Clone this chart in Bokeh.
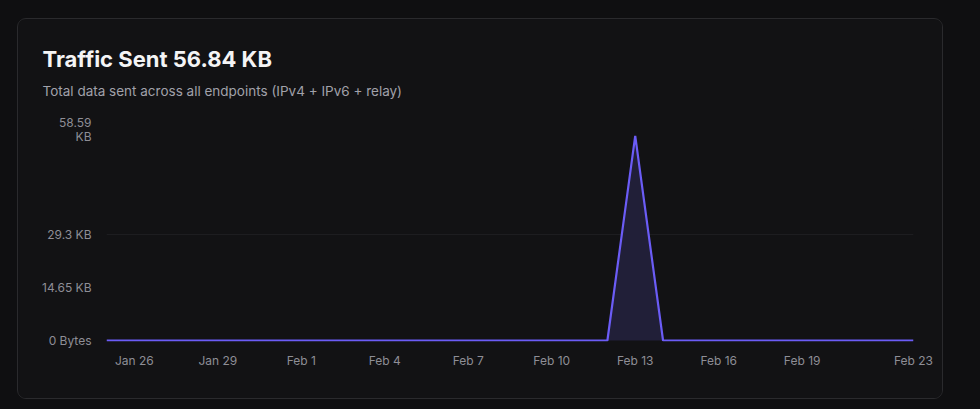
from bokeh.plotting import figure
from bokeh.models import (Range1d, FixedTicker, Title, GlobalInlineStyleSheet,
                          ColumnDataSource)
from bokeh.embed import file_html
from bokeh.resources import INLINE

# ---------------- data ----------------
dates = ["Jan 25", "Jan 26", "Jan 27", "Jan 28", "Jan 29", "Jan 30", "Jan 31",
         "Feb 1", "Feb 2", "Feb 3", "Feb 4", "Feb 5", "Feb 6", "Feb 7", "Feb 8",
         "Feb 9", "Feb 10", "Feb 11", "Feb 12", "Feb 13", "Feb 14", "Feb 15",
         "Feb 16", "Feb 17", "Feb 18", "Feb 19", "Feb 20", "Feb 21", "Feb 22",
         "Feb 23"]
bytes_sent = [0, 0, 0, 0, 0, 0, 0, 0, 0, 0, 0, 0, 0, 0, 0, 0, 0, 0, 0,
              58204, 0, 0, 0, 0, 0, 0, 0, 0, 0, 0]
x_tick_labels = ["Jan 26", "Jan 29", "Feb 1", "Feb 4", "Feb 7", "Feb 10",
                 "Feb 13", "Feb 16", "Feb 19", "Feb 23"]
y_ticks = [0, 15000, 30000, 60000]
y_tick_labels = ["0 Bytes", "14.65 KB", "29.3 KB", "58.59\nKB"]
y_grid_ticks = [30000, 60000]
title_text = "Traffic Sent 56.84 KB"
subtitle_text = "Total data sent across all endpoints (IPv4 + IPv6 + relay)"

# ---------------- styles ----------------
PAGE_BG = "#0f0f11"
CARD_BG = "#121214"
CARD_BORDER = "#2a2a2d"
GRID = "#1d1d20"
LINE = "#6b5cf6"
FILL = "#211f38"
TICK = "#8e8e96"
FONT = "Inter"

xs = list(range(len(dates)))
src = ColumnDataSource(dict(x=xs, y=bytes_sent, zero=[0] * len(xs)))

W, H = 926, 381
FL, FR, FB = 88, 895, 322

p = figure(width=W, height=H, output_backend="svg", toolbar_location=None,
           title=None,
           x_range=Range1d(0, len(dates) - 1), y_range=Range1d(-286, 60000),
           min_border_left=FL, min_border_right=W - FR,
           min_border_top=0, min_border_bottom=H - FB,
           background_fill_color=None, border_fill_color=CARD_BG,
           outline_line_color=None)
p.stylesheets.append(GlobalInlineStyleSheet(css=f"body{{background:{PAGE_BG};}}"))
p.styles = {"margin-left": "17px", "margin-top": "18px",
            "border": f"1px solid {CARD_BORDER}", "border-radius": "9px",
            "overflow": "hidden", "background-color": CARD_BG}

p.varea(x="x", y1="zero", y2="y", source=src, fill_color=FILL, fill_alpha=1.0)
p.line(x="x", y="y", source=src, line_color=LINE, line_width=2.2)

# axes
tick_idx = [dates.index(t) for t in x_tick_labels]
p.xaxis.ticker = FixedTicker(ticks=tick_idx)
p.xaxis.major_label_overrides = {i: l for i, l in zip(tick_idx, x_tick_labels)}
p.yaxis.ticker = FixedTicker(ticks=y_ticks)
p.yaxis.major_label_overrides = {v: l for v, l in zip(y_ticks, y_tick_labels)}
for ax in (p.xaxis[0], p.yaxis[0]):
    ax.axis_line_color = None
    ax.major_tick_line_color = None
    ax.minor_tick_line_color = None
    ax.major_tick_out = 0
    ax.major_tick_in = 0
    ax.major_label_text_color = TICK
    ax.major_label_text_font = FONT
    ax.major_label_text_font_size = "12px"
    ax.major_label_text_line_height = 0.87
p.xaxis.major_label_standoff = 11
p.yaxis.major_label_standoff = 15

p.xgrid.visible = False
p.ygrid.ticker = FixedTicker(ticks=y_grid_ticks)
p.ygrid.grid_line_color = GRID
p.ygrid.grid_line_width = 1

# title stack (closest to the frame is added first)
OFF = 24 - FL
p.add_layout(Title(text=" ", text_font_size="1px", standoff=26), "above")
p.add_layout(Title(text=subtitle_text, text_font=FONT, text_font_size="13.5px",
                   text_color="#a1a1aa", text_font_style="normal",
                   align="left", offset=OFF, standoff=4), "above")
p.add_layout(Title(text=title_text, text_font=FONT, text_font_size="22px",
                   text_font_style="bold", text_color="#f4f4f5",
                   align="left", offset=OFF, standoff=13), "above")
p.add_layout(Title(text=" ", text_font_size="1px", standoff=15), "above")

open("out.html", "w").write(file_html(p, INLINE))
